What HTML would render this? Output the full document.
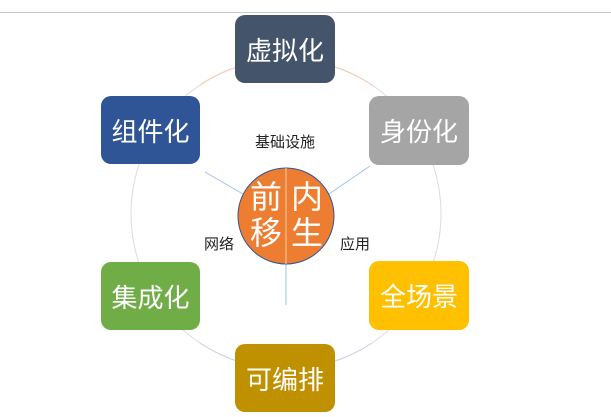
<html><body style="margin:0;width:611px;height:417px;background:#fff;position:relative;overflow:hidden;font-family:'Liberation Sans','Noto Sans CJK SC',sans-serif">
<div style="position:absolute;left:0;top:12px;width:611px;height:1px;background:#c8c8c8"></div>
<svg width="611" height="417" style="position:absolute;left:0;top:0">
<circle cx="286" cy="214" r="155" fill="none" stroke="#dcdcdc" stroke-width="1"/>
<path d="M200 85 A155 155 0 0 1 372 85" fill="none" stroke="#f4c9b0" stroke-width="1"/>
<path d="M372 343 A155 155 0 0 1 200 343" fill="none" stroke="#c9d3e8" stroke-width="1"/>
<line x1="205" y1="172" x2="243" y2="194" stroke="#9dc3e6"/>
<line x1="370" y1="166" x2="329" y2="194" stroke="#9dc3e6"/>
<line x1="286" y1="264" x2="286" y2="305" stroke="#9dc3e6"/>
<circle cx="286" cy="216" r="48" fill="#ed7d31" stroke="#2f5597" stroke-width="1"/>
<line x1="286" y1="168" x2="286" y2="264" stroke="#f8cbad" stroke-width="1"/>
</svg>
<style>.b{position:absolute;border-radius:10px;color:#fff;font-size:26px;display:flex;align-items:center;justify-content:center}.t{position:absolute;font-size:15px;color:#222}.c{position:absolute;color:#fff;font-size:32px;line-height:36px;width:40px;text-align:center}</style>
<div class="b" style="left:235px;top:15px;width:100px;height:68px;background:#44546a">虚拟化</div>
<div class="b" style="left:369px;top:96px;width:100px;height:69px;background:#a5a5a5">身份化</div>
<div class="b" style="left:101px;top:96px;width:99px;height:68px;background:#2f5597">组件化</div>
<div class="b" style="left:101px;top:262px;width:99px;height:68px;background:#70ad47">集成化</div>
<div class="b" style="left:369px;top:261px;width:100px;height:69px;background:#ffc000">全场景</div>
<div class="b" style="left:235px;top:344px;width:100px;height:68px;background:#bf9000">可编排</div>
<div class="c" style="left:246px;top:179px">前<br>移</div>
<div class="c" style="left:287px;top:179px">内<br>生</div>
<div class="t" style="left:255px;top:131px">基础设施</div>
<div class="t" style="left:204px;top:233px">网络</div>
<div class="t" style="left:340px;top:233px">应用</div>
</body></html>
